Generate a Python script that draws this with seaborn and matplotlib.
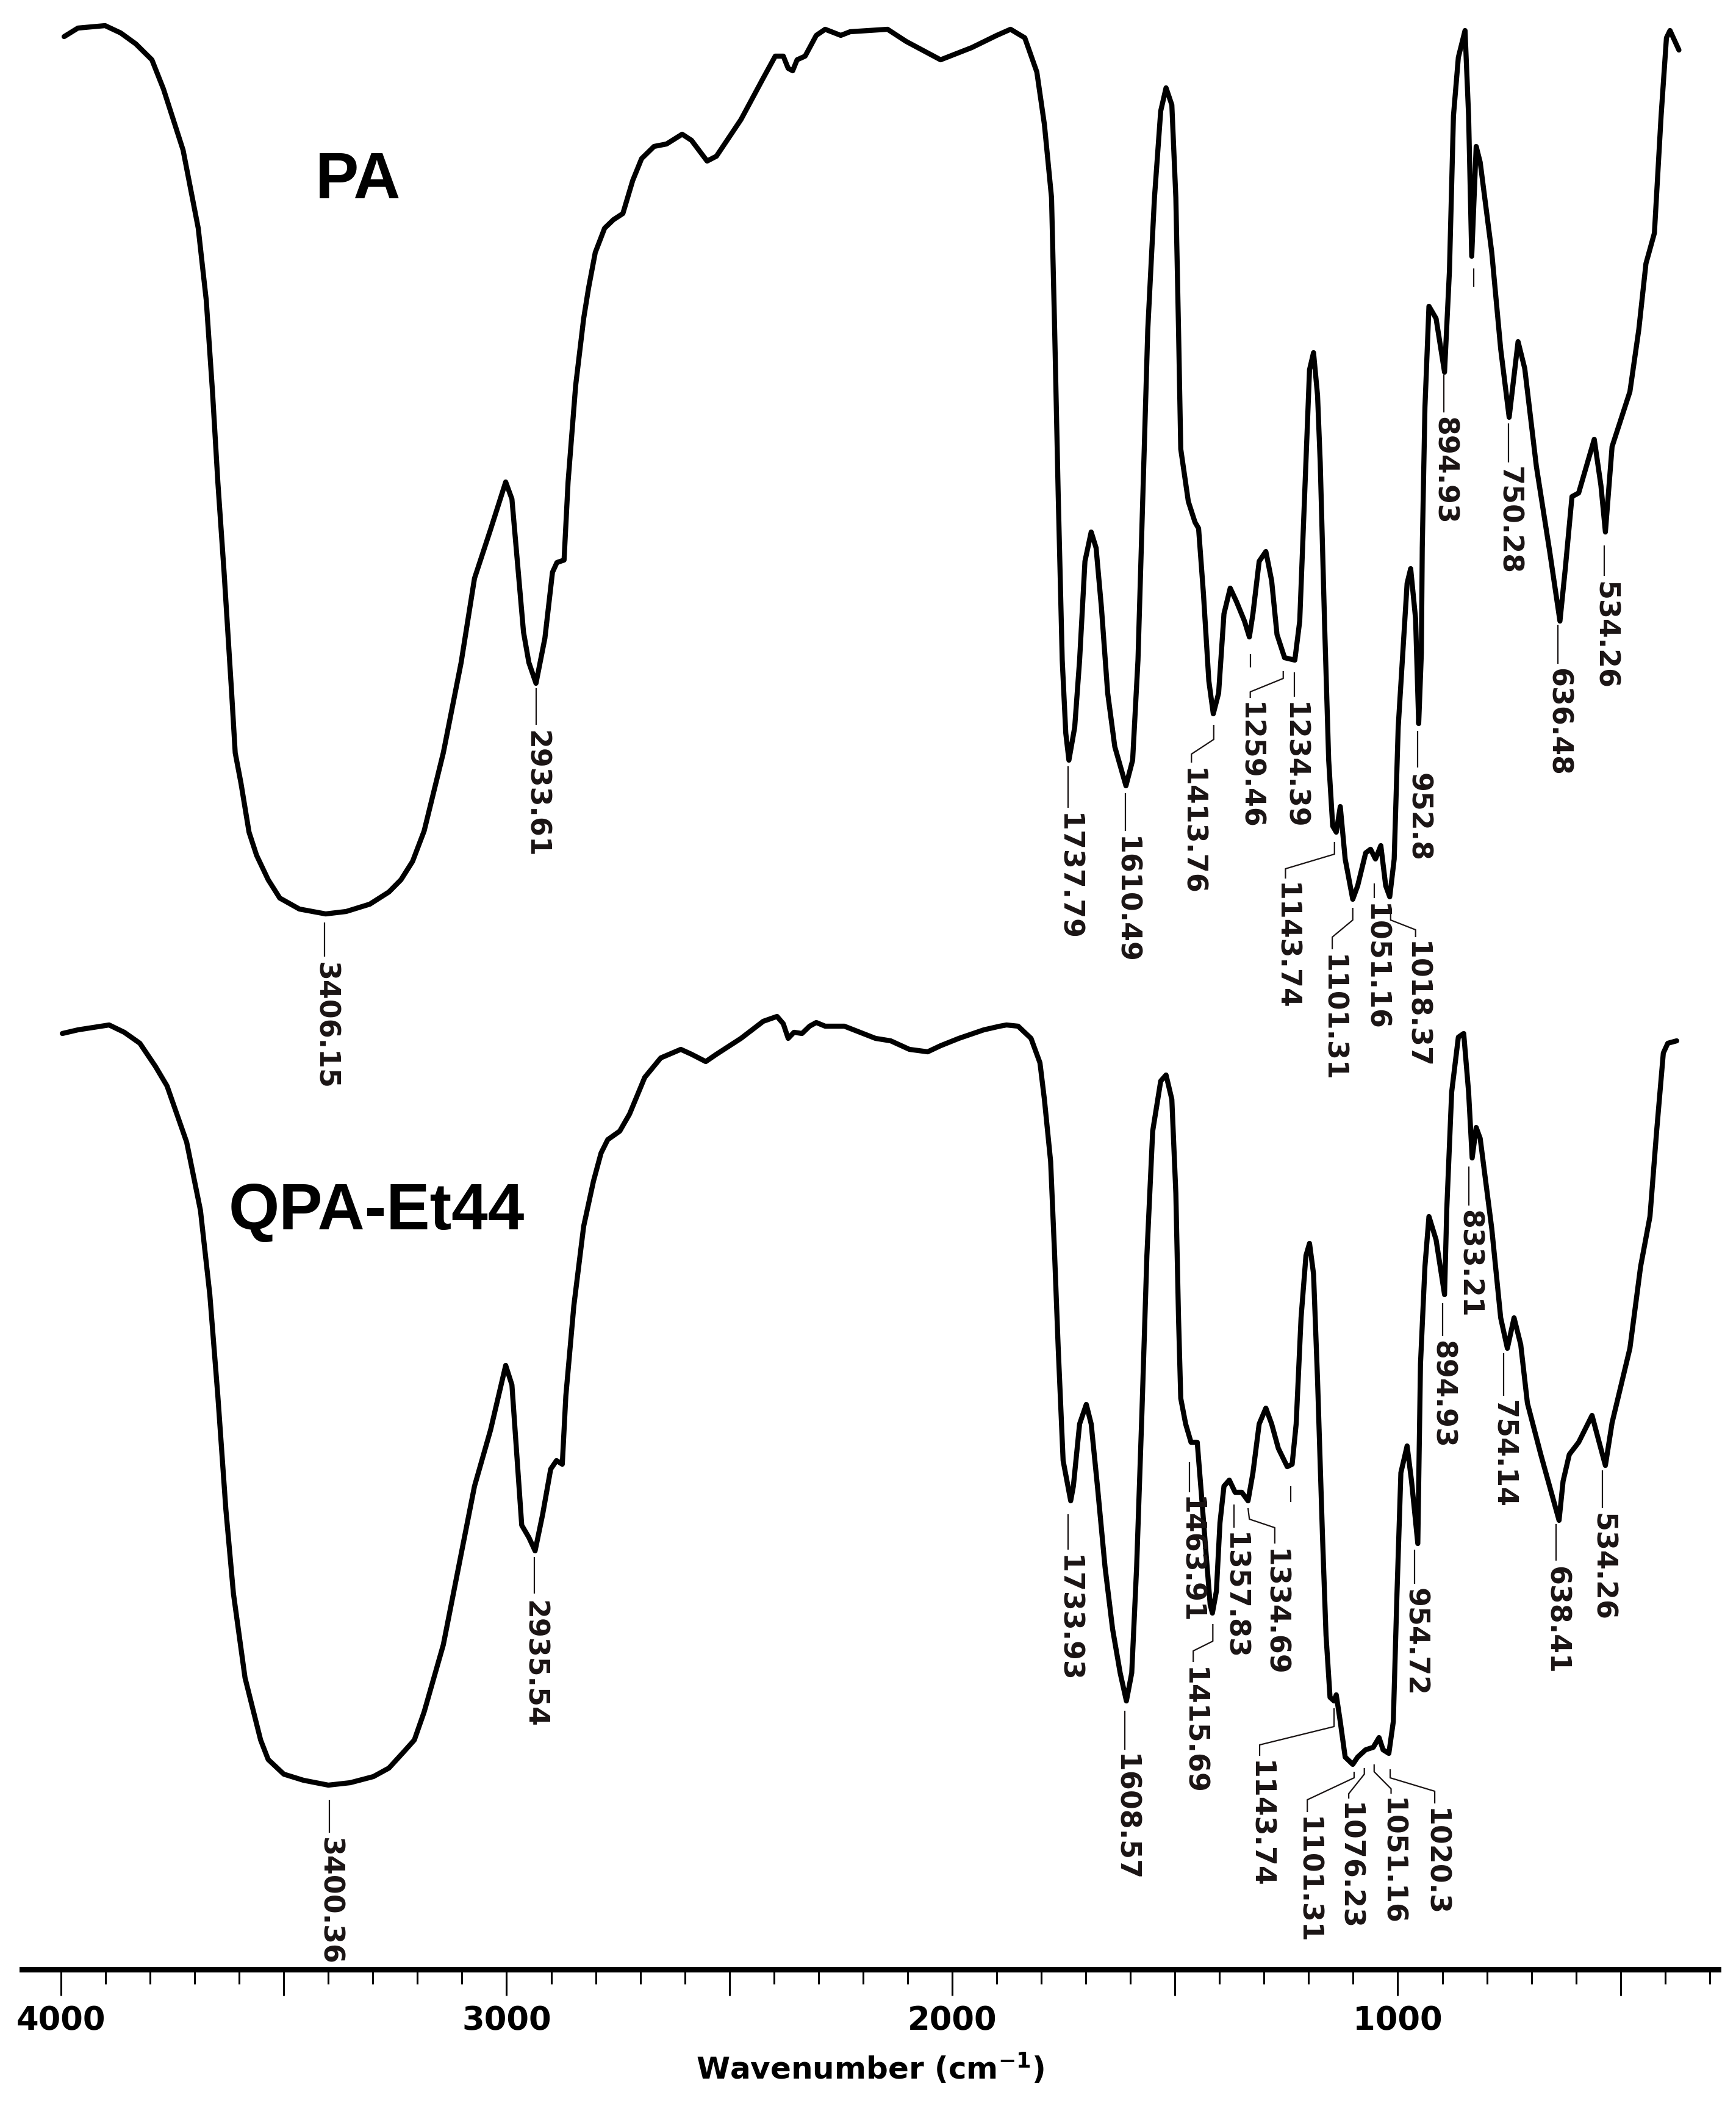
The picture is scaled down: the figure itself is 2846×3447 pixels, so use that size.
import matplotlib
matplotlib.use("Agg")
import matplotlib.pyplot as plt
import seaborn as sns
from matplotlib.ticker import FixedLocator, MultipleLocator, FuncFormatter

# FTIR spectra: wavenumber (cm-1) and stacked transmittance (a.u.)
pa_wn = [3993, 3962, 3901, 3866, 3832, 3796, 3770, 3726, 3692, 3674, 3660, 3648, 3634, 3617,
         3609, 3596, 3578, 3561, 3535, 3509, 3465, 3406, 3360, 3307, 3264, 3237, 3211, 3185,
         3142, 3102, 3072, 3036, 3002, 2988, 2962, 2950, 2934, 2914,
         2897, 2887, 2871, 2862, 2845, 2827, 2816, 2801, 2780, 2760, 2739, 2717, 2697, 2669,
         2641, 2606, 2585, 2550, 2529, 2474, 2424, 2397, 2379, 2368, 2358, 2348, 2330, 2305,
         2285, 2250, 2229, 2145, 2103, 2026, 1956, 1900, 1869, 1837, 1810, 1793, 1777, 1770,
         1762, 1753, 1745, 1738, 1725, 1714, 1702, 1688, 1677, 1665, 1651, 1635, 1610, 1595,
         1583, 1572, 1561, 1546, 1532, 1520, 1507, 1498, 1492, 1487, 1470, 1455, 1447, 1436,
         1424, 1414, 1402, 1390, 1376, 1362, 1344, 1333, 1325, 1311, 1296, 1283, 1271, 1254,
         1231, 1220, 1209, 1198, 1189, 1180, 1174, 1164, 1155, 1146, 1138, 1129, 1118, 1101,
         1090, 1072, 1061, 1050, 1038, 1027, 1018, 1008, 999, 979, 971, 960, 953, 947, 945,
         939, 930, 914, 895, 884, 875, 864, 849, 841, 834, 824, 815, 789, 769, 750, 730, 715,
         689, 659, 636, 624, 609, 594, 559, 544, 534, 519, 479, 459, 443, 424, 409, 397, 389,
         369]
pa_t = [158.4, 159.1, 159.3, 158.7, 157.8, 156.5, 154.1, 149.1, 142.7, 136.8, 129.3, 121.9,
        114.5, 104.6, 99.7, 97.2, 93.2, 91.3, 89.3, 87.8, 86.9, 86.5, 86.7, 87.3, 88.3, 89.3,
        90.8, 93.3, 99.7, 107.1, 114.0, 118.0, 121.9, 120.5, 109.6, 107.1,
        105.4, 109.1, 114.5, 115.3, 115.5, 121.9, 129.8, 135.3, 137.8, 140.7, 142.7, 143.4,
        143.9, 146.6, 148.4, 149.4, 149.6, 150.4, 149.9, 148.2, 148.6, 151.6, 155.0, 156.8,
        156.8, 155.8, 155.6, 156.5, 156.8, 158.5, 159.0, 158.5, 158.8, 159.0, 158.0, 156.5,
        157.5, 158.5, 159.0, 158.3, 155.5, 151.2, 145.2, 134.4, 120.8, 107.3, 101.3, 99.1,
        101.8, 107.3, 115.4, 117.8, 116.5, 111.6, 104.6, 100.2, 97.0, 99.1, 107.3, 120.8,
        134.4, 145.2, 152.3, 154.2, 152.8, 145.2, 134.4, 124.6, 120.3, 118.6, 118.1, 112.7,
        105.6, 102.9, 104.6, 111.1, 113.2, 112.1, 110.5, 109.2, 111.1, 115.4, 116.2, 113.8,
        109.4, 107.5, 107.3, 110.5, 120.8, 131.1, 132.5, 129.0, 123.5, 110.0, 99.1, 93.7,
        93.2, 95.3, 91.0, 87.7, 88.8, 91.5, 91.8, 91.0, 92.1, 88.8, 87.9, 91.0, 101.8, 113.6,
        114.8, 110.7, 102.1, 107.9, 116.5, 128.0, 136.3, 135.3, 130.9, 139.2, 151.9, 156.7,
        158.9, 151.9, 140.4, 149.4, 148.1, 140.7, 132.8, 127.2, 133.4, 131.2, 123.2, 116.2,
        110.5, 114.8, 120.7, 121.0, 125.4, 121.6, 117.8, 124.8, 129.3, 134.4, 139.8, 142.3,
        151.9, 158.3, 158.9, 157.3]

qpa_wn = [3997, 3962, 3892, 3858, 3823, 3788, 3762, 3718, 3687, 3666, 3648, 3630, 3613, 3587,
          3552, 3535, 3500, 3456, 3400, 3351, 3299, 3264, 3229, 3207, 3185, 3142, 3107, 3072,
          3036, 3002, 2988, 2966, 2950, 2936, 2919, 2901,
          2888, 2875, 2867, 2849, 2827, 2805, 2788, 2773, 2746, 2724, 2690, 2654, 2609, 2585,
          2553, 2529, 2474, 2424, 2393, 2379, 2368, 2355, 2337, 2320, 2305, 2285, 2242, 2172,
          2138, 2096, 2055, 2026, 1985, 1929, 1893, 1878, 1852, 1823, 1803, 1793, 1779, 1770,
          1762, 1751, 1734, 1728, 1714, 1699, 1688, 1674, 1657, 1640, 1623, 1609, 1597, 1586,
          1574, 1563, 1550, 1532, 1520, 1507, 1498, 1492, 1487, 1476, 1464, 1450, 1441, 1430,
          1421, 1416, 1407, 1399, 1390, 1378, 1365, 1350, 1336, 1325, 1311, 1296, 1283, 1268,
          1248, 1237, 1228, 1217, 1206, 1198, 1189, 1180, 1169, 1161, 1152, 1143, 1138, 1129,
          1118, 1101, 1090, 1072, 1055, 1042, 1033, 1020, 1010, 1002, 993, 979, 969, 955, 949,
          939, 930, 914, 895, 890, 879, 864, 852, 841, 833, 824, 815, 789, 769, 754, 739, 724,
          709, 679, 638, 629, 615, 594, 564, 548, 534, 519, 479, 455, 434, 419, 404, 394, 374]
qpa_t = [76.7, 77.0, 77.4, 76.8, 75.9, 74.0, 72.4, 67.8, 62.2, 55.3, 47.0, 37.7, 30.8, 23.9,
         18.8, 17.2, 16.0, 15.5, 15.1, 15.3, 15.8, 16.5, 17.9, 18.8, 21.1, 26.6, 33.1, 39.6,
         44.2, 49.5, 47.9, 36.4, 35.4, 34.3, 37.3, 41.0,
         41.7, 41.4, 47.0, 54.4, 60.9, 64.6, 66.9, 68.0, 68.7, 70.1, 73.1, 74.7, 75.4, 75.0,
         74.4, 75.0, 76.3, 77.7, 78.1, 77.5, 76.3, 76.8, 76.7, 77.3, 77.6, 77.3, 77.3, 76.3,
         76.1, 75.4, 75.2, 75.7, 76.3, 77.0, 77.3, 77.4, 77.3, 76.3, 74.3, 71.3, 66.2, 58.5,
         50.9, 41.7, 38.4, 39.6, 44.7, 46.3, 44.7, 39.6, 33.0, 27.9, 24.3, 22.0, 24.3, 33.0,
         45.8, 58.5, 68.7, 72.8, 73.3, 71.3, 63.6, 53.4, 46.8, 44.7, 43.2, 43.2, 39.1, 34.0,
         29.9, 29.2, 31.0, 36.6, 39.6, 40.1, 39.1, 39.1, 38.4, 40.7, 44.7, 46.0, 44.7, 42.7,
         41.2, 41.4, 44.7, 53.4, 58.5, 59.5, 57.0, 48.3, 35.6, 27.4, 22.3, 22.0, 22.5, 20.3,
         17.4, 16.8, 17.4, 18.0, 18.2, 19.0, 18.0, 17.7, 20.3, 30.5, 40.7, 42.9, 40.0, 34.9,
         49.6, 57.6, 61.7, 59.8, 55.3, 62.3, 71.9, 76.4, 76.7, 71.9, 66.5, 69.0, 68.1, 60.7,
         53.4, 50.9, 53.4, 51.2, 46.4, 42.2, 36.8, 40.0, 42.2, 43.2, 45.4, 43.2, 41.3, 44.8,
         50.9, 57.6, 61.7, 68.7, 75.1, 75.9, 76.1]

# peak labels: text, leader polyline (wavenumber, a.u.), text top anchor
pa_labels = [
    ("3406.15", [(3408, 85.8), (3408, 83.0)], (3408, 82.6)),
    ("2933.61", [(2934, 105.0), (2934, 102.0)], (2934, 101.6)),
    ("1737.79", [(1740, 98.6), (1740, 95.2)], (1740, 94.8)),
    ("1610.49", [(1611, 96.4), (1611, 93.3)], (1611, 92.9)),
    ("1413.76", [(1413, 102.0), (1413, 100.8), (1463, 99.6), (1463, 98.9)], (1463, 98.5)),
    ("1259.46", [(1257, 106.4), (1257, 105.8), (1331, 104.7), (1331, 104.2)], (1333, 103.9)),
    ("1234.39", [(1232, 106.3), (1232, 104.3)], (1233, 103.9)),
    ("1143.74", [(1142, 92.4), (1142, 91.4), (1252, 90.2), (1252, 89.4)], (1253, 89.1)),
    ("1101.31", [(1101, 87.0), (1101, 86.0), (1147, 84.6), (1147, 83.6)], (1148, 83.2)),
    ("1051.16", [(1052, 89.0), (1052, 87.8)], (1052, 87.4)),
    ("1018.37", [(1016, 87.0), (1016, 86.0), (960, 85.2), (960, 84.6)], (960, 84.3)),
    ("952.8", [(955, 101.5), (955, 98.5)], (955, 98.1)),
    ("894.93", [(896, 130.7), (896, 127.6)], (896, 127.3)),
    ("750.28", [(752, 126.7), (752, 123.5)], (752, 123.2)),
    ("636.48", [(640, 110.2), (640, 107.0)], (640, 106.7)),
    ("534.26", [(536, 116.7), (536, 114.2)], (536, 113.8)),
    ("", [(830, 139.4), (830, 137.9)], None),
    ("", [(1331, 107.8), (1331, 106.7)], None),
]
qpa_labels = [
    ("3400.36", [(3398, 13.9), (3398, 11.2)], (3398, 10.85)),
    ("2935.54", [(2938, 33.8), (2938, 30.8)], (2938, 30.3)),
    ("1733.93", [(1740, 37.3), (1740, 34.4)], (1740, 34.0)),
    ("1608.57", [(1613, 21.2), (1613, 18.0)], (1613, 17.7)),
    ("1463.91", [(1467, 41.6), (1467, 39.1)], (1467, 38.8)),
    ("1357.83", [(1368, 38.1), (1368, 36.2)], (1368, 35.85)),
    ("1415.69", [(1415, 28.3), (1415, 26.9), (1459, 26.1), (1459, 25.2)], (1459, 24.8)),
    ("1334.69", [(1336, 37.8), (1333, 36.9), (1276, 36.2), (1276, 34.9)], (1277, 34.5)),
    ("1143.74", [(1143, 21.4), (1143, 19.9), (1310, 18.4), (1310, 17.5)], (1310, 17.15)),
    ("1101.31", [(1098, 16.2), (1098, 15.7), (1203, 13.9), (1203, 12.9)], (1203, 12.55)),
    ("1076.23", [(1075, 16.5), (1075, 16.0), (1110, 14.4), (1110, 14.0)], (1110, 13.7)),
    ("1051.16", [(1053, 16.8), (1053, 16.2), (1015, 14.8), (1015, 14.4)], (1015, 14.1)),
    ("1020.3", [(1017, 16.4), (1017, 15.7), (917, 14.6), (917, 13.6)], (917, 13.25)),
    ("954.72", [(962, 34.4), (962, 31.6)], (962, 31.3)),
    ("894.93", [(900, 54.6), (900, 51.9)], (900, 51.6)),
    ("833.21", [(840, 65.8), (840, 62.6)], (840, 62.3)),
    ("754.14", [(763, 50.5), (763, 47.0)], (763, 46.7)),
    ("638.41", [(645, 36.5), (645, 33.5)], (645, 33.1)),
    ("534.26", [(541, 40.9), (541, 37.8)], (541, 37.45)),
    ("", [(1240, 39.6), (1240, 38.3)], None),
]

sample_names = ["PA", "QPA-Et44"]
name_pos = [(3333, 146.6), (3292, 62.1)]


def main():
    sns.set_style("white")
    plt.rcParams["font.family"] = ["DejaVu Sans"]
    plt.rcParams["mathtext.fontset"] = "dejavusans"
    plt.rcParams["mathtext.default"] = "bf"

    fig = plt.figure(figsize=(28.46, 34.48), dpi=100)
    ax = fig.add_axes([36 / 2846, 219 / 3448, 2781 / 2846, 3229 / 3448])

    sns.lineplot(x=pa_wn, y=pa_t, sort=False, estimator=None, color="black", lw=6, ax=ax)
    sns.lineplot(x=qpa_wn, y=qpa_t, sort=False, estimator=None, color="black", lw=6, ax=ax)

    for labels in (pa_labels, qpa_labels):
        for text, leader, anchor in labels:
            xs, ys = zip(*leader)
            ax.plot(xs, ys, color="#1a1414", lw=1.6, solid_capstyle="butt")
            if anchor is not None:
                ax.text(anchor[0], anchor[1], text, rotation=270, ha="center", va="top",
                        fontsize=33, fontweight="bold", color="#1a1414")

    for name, (x, y) in zip(sample_names, name_pos):
        ax.text(x, y, name, ha="center", va="center", fontsize=77, fontweight="bold",
                color="black", family=["Liberation Sans", "DejaVu Sans"])

    ax.set_xlim(4087.6, 280.6)
    ax.set_ylim(0, 161.45)
    ax.set_yticks([])
    for side in ("left", "right", "top"):
        ax.spines[side].set_visible(False)
    ax.spines["bottom"].set_linewidth(6.5)
    ax.spines["bottom"].set_color("black")

    ax.xaxis.set_major_locator(FixedLocator(range(4000, 499, -500)))
    ax.xaxis.set_minor_locator(MultipleLocator(100))
    ax.xaxis.set_major_formatter(FuncFormatter(lambda v, p: f"{int(v)}" if v % 1000 == 0 else ""))
    ax.tick_params(axis="x", which="both", bottom=True, direction="out", color="black")
    ax.tick_params(axis="x", which="major", length=31, width=2.2, pad=10, labelsize=38,
                   labelcolor="black")
    ax.tick_params(axis="x", which="minor", length=17, width=2.2)
    for lab in ax.get_xticklabels():
        lab.set_fontweight("bold")

    ax.set_xlabel(r"Wavenumber (cm$^{-1}$)", fontsize=36, fontweight="bold", color="black")
    ax.xaxis.set_label_coords(0.5, -0.0499)
    ax.xaxis.label.set_va("center")
    ax.set_ylabel("")

    fig.savefig("out.png", dpi=100, facecolor="white")


if __name__ == "__main__":
    main()
